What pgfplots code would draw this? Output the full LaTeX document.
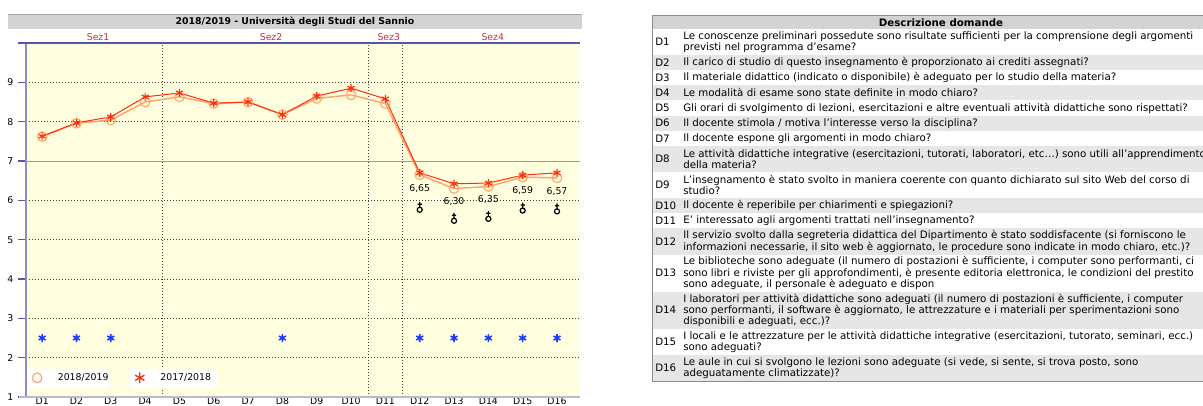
\documentclass[border=0pt]{standalone}
\usepackage{fontspec}
\setmainfont{DejaVu Sans}
\usepackage{pgfplots}
\pgfplotsset{compat=1.18}
\definecolor{bgyellow}{RGB}{255,255,224}
\definecolor{orangeL}{RGB}{255,165,105}
\definecolor{redL}{RGB}{255,45,15}
\definecolor{blueS}{RGB}{30,60,255}
\definecolor{axblue}{RGB}{85,85,170}
\definecolor{axleft}{RGB}{140,140,205}
\definecolor{axlight}{RGB}{185,185,215}
\definecolor{sezred}{RGB}{190,50,60}
\definecolor{hdrgray}{RGB}{211,211,211}
\definecolor{rowgray}{RGB}{230,230,230}
\newcommand\tabfont{\fontsize{7.7}{8.4}\selectfont}
\newcommand\chfont{\fontsize{7}{8}\selectfont}
\newcommand\trow[5]{%
  \fill[#3] (652,#1) rectangle (1240,#2);
  \node[anchor=west, inner sep=0pt, font=\tabfont] at (655,{(#1+#2)/2}) {#4};
  \node[anchor=west, inner sep=0pt, align=left, font=\tabfont] at (683,{(#1+#2)/2}) {#5};
}
\pgfdeclareplotmark{earth}{%
  \pgfpathcircle{\pgfpointorigin}{1.9pt}%
  \pgfpathmoveto{\pgfpoint{0pt}{1.9pt}}\pgfpathlineto{\pgfpoint{0pt}{6pt}}%
  \pgfpathmoveto{\pgfpoint{-1.6pt}{4.2pt}}\pgfpathlineto{\pgfpoint{1.6pt}{4.2pt}}%
  \pgfusepathqstroke}
\begin{document}
\begin{tikzpicture}
\begin{scope}[x=0.75pt,y=-0.75pt]
 % chart title bar
 \fill[hdrgray] (8,15) rectangle (582,29);
 \draw[black!35, line width=0.75pt] (8,15) -- (582,15);
 \node[font=\bfseries\chfont] at (295,22) {2018/2019 - Università degli Studi del Sannio};
 % table
 \fill[hdrgray] (652,16) rectangle (1240,29);
 \node[font=\bfseries\tabfont] at (941,22.5) {Descrizione domande};
 \trow{29}{55.1}{white}{D1}{Le conoscenze preliminari possedute sono risultate sufficienti per la comprensione degli argomenti\\previsti nel programma d’esame?}
 \trow{55.1}{70.25}{rowgray}{D2}{Il carico di studio di questo insegnamento è proporzionato ai crediti assegnati?}
 \trow{70.25}{85.4}{white}{D3}{Il materiale didattico (indicato o disponibile) è adeguato per lo studio della materia?}
 \trow{85.4}{100.5}{rowgray}{D4}{Le modalità di esame sono state definite in modo chiaro?}
 \trow{100.5}{115.6}{white}{D5}{Gli orari di svolgimento di lezioni, esercitazioni e altre eventuali attività didattiche sono rispettati?}
 \trow{115.6}{130.75}{rowgray}{D6}{Il docente stimola / motiva l’interesse verso la disciplina?}
 \trow{130.75}{145.9}{white}{D7}{Il docente espone gli argomenti in modo chiaro?}
 \trow{145.9}{172}{rowgray}{D8}{Le attività didattiche integrative (esercitazioni, tutorati, laboratori, etc…) sono utili all’apprendimento\\della materia?}
 \trow{172}{198.1}{white}{D9}{L’insegnamento è stato svolto in maniera coerente con quanto dichiarato sul sito Web del corso di\\studio?}
 \trow{198.1}{213.25}{rowgray}{D10}{Il docente è reperibile per chiarimenti e spiegazioni?}
 \trow{213.25}{228.4}{white}{D11}{E’ interessato agli argomenti trattati nell’insegnamento?}
 \trow{228.4}{254.5}{rowgray}{D12}{Il servizio svolto dalla segreteria didattica del Dipartimento è stato soddisfacente (si forniscono le\\informazioni necessarie, il sito web è aggiornato, le procedure sono indicate in modo chiaro, etc.)?}
 \trow{254.5}{291.6}{white}{D13}{Le biblioteche sono adeguate (il numero di postazioni è sufficiente, i computer sono performanti, ci\\sono libri e riviste per gli approfondimenti, è presente editoria elettronica, le condizioni del prestito\\sono adeguate, il personale è adeguato e dispon}
 \trow{291.6}{328.75}{rowgray}{D14}{I laboratori per attività didattiche sono adeguati (il numero di postazioni è sufficiente, i computer\\sono performanti, il software è aggiornato, le attrezzature e i materiali per sperimentazioni sono\\disponibili e adeguati, ecc.)?}
 \trow{328.75}{354.9}{white}{D15}{I locali e le attrezzature per le attività didattiche integrative (esercitazioni, tutorato, seminari, ecc.)\\sono adeguati?}
 \trow{354.9}{381}{rowgray}{D16}{Le aule in cui si svolgono le lezioni sono adeguate (si vede, si sente, si trova posto, sono\\adeguatamente climatizzate)?}
 \draw[black!45, line width=0.75pt] (652,16) rectangle (1240,381);
\end{scope}
\begin{axis}[
  at={(19.5pt,-297.75pt)}, anchor=south west,
  scale only axis, width=415.5pt, height=265.5pt,
  xmin=0.53, xmax=16.67, ymin=1, ymax=10,
  clip=false,
  axis background/.style={fill=bgyellow},
  axis line style={draw=none},
  xtick={1,...,16},
  xticklabels={D1,D2,D3,D4,D5,D6,D7,D8,D9,D10,D11,D12,D13,D14,D15,D16},
  ytick={1,...,9},
  tick pos=left,
  tick align=outside,
  xtick style={draw=none},
  ytick style={axblue, line width=0.9pt},
  major tick length=6pt,
  ticklabel style={font=\chfont},
  xticklabel shift=-6pt,
  xticklabel style={inner sep=0.6pt},
  /pgf/number format/assume math mode=true,
  ymajorgrids,
  major grid style={dash pattern=on 0.75pt off 1.5pt, black!75, line width=0.6pt},
  legend style={at={(0.0036,0.022)}, anchor=south west, fill=none, draw=none,
    font=\chfont, inner xsep=3pt, inner ysep=3pt},
  legend columns=2,
  legend style={/tikz/every even column/.append style={column sep=18pt},
                /tikz/every odd column/.append style={column sep=10pt}},
]
\draw[black!40, line width=0.75pt] (axis cs:0.53,7) -- (axis cs:16.67,7);
\draw[dash pattern=on 0.75pt off 1.5pt, black!75, line width=0.6pt] (axis cs:4.5,1) -- (axis cs:4.5,10);
\draw[dash pattern=on 0.75pt off 1.5pt, black!75, line width=0.6pt] (axis cs:10.5,1) -- (axis cs:10.5,10);
\draw[dash pattern=on 0.75pt off 1.5pt, black!75, line width=0.6pt] (axis cs:11.5,1) -- (axis cs:11.5,10);
\draw[axleft, line width=1.5pt] (rel axis cs:0,0) -- (rel axis cs:0,1);
\draw[axlight, line width=1.5pt] ([xshift=-5pt]rel axis cs:0,0) -- (rel axis cs:1,0);
\draw[axblue, line width=0.9pt] ([xshift=-6pt]rel axis cs:0,1) -- (rel axis cs:1,1);
\node[text=sezred, font=\chfont, yshift=4.5pt] at (axis cs:2.63,10) {Sez1};
\node[text=sezred, font=\chfont, yshift=4.5pt] at (axis cs:7.67,10) {Sez2};
\node[text=sezred, font=\chfont, yshift=4.5pt] at (axis cs:11.1,10) {Sez3};
\node[text=sezred, font=\chfont, yshift=4.5pt] at (axis cs:14.13,10) {Sez4};
\addlegendimage{only marks, mark=o, mark size=3.6pt, orangeL, line width=0.9pt}
\addlegendentry{2018/2019}
\addlegendimage{only marks, mark=asterisk, mark size=4pt, redL, line width=1pt}
\addlegendentry{2017/2018}
% 2018/2019
\addplot[forget plot, orangeL, line width=1.1pt, mark=o, mark size=3.6pt, mark options={line width=0.8pt}] coordinates {
(1,7.62) (2,7.96) (3,8.04) (4,8.50) (5,8.63) (6,8.46) (7,8.50) (8,8.18) (9,8.59) (10,8.68) (11,8.46) (12,6.65) (13,6.30) (14,6.35) (15,6.59) (16,6.57)};
% 2017/2018
\addplot[forget plot, redL, line width=0.75pt, mark=asterisk, mark size=3pt, mark options={line width=0.9pt}] coordinates {
(1,7.63) (2,7.97) (3,8.12) (4,8.63) (5,8.73) (6,8.47) (7,8.50) (8,8.18) (9,8.65) (10,8.85) (11,8.58) (12,6.70) (13,6.42) (14,6.44) (15,6.64) (16,6.70)};
% value labels
\addplot[forget plot, draw=none, mark=none, nodes near coords, point meta=explicit symbolic,
  nodes near coords style={anchor=center, yshift=-10pt, font=\chfont, text=black}] coordinates {
(12,6.65) [{6,65}] (13,6.30) [{6,30}] (14,6.35) [{6,35}] (15,6.59) [{6,59}] (16,6.57) [{6,57}]};
% black markers
\addplot[forget plot, only marks, black, mark=earth, line width=0.9pt] coordinates {
(12,5.76) (13,5.48) (14,5.53) (15,5.74) (16,5.72)};
% blue stars
\addplot[forget plot, only marks, blueS, mark=asterisk, mark size=3pt, line width=1.2pt] coordinates {
(1,2.5) (2,2.5) (3,2.5) (8,2.5) (12,2.5) (13,2.5) (14,2.5) (15,2.5) (16,2.5)};
% legend backgrounds (two white boxes)
\fill[white] (rel axis cs:0.0036,0.0254) rectangle (rel axis cs:0.1516,0.0791);
\fill[white] (rel axis cs:0.1877,0.0254) rectangle (rel axis cs:0.3448,0.0791);
\end{axis}
\pgfresetboundingbox
\path[use as bounding box] (0,0) rectangle (902.25pt,-304.5pt);
\end{tikzpicture}
\end{document}
